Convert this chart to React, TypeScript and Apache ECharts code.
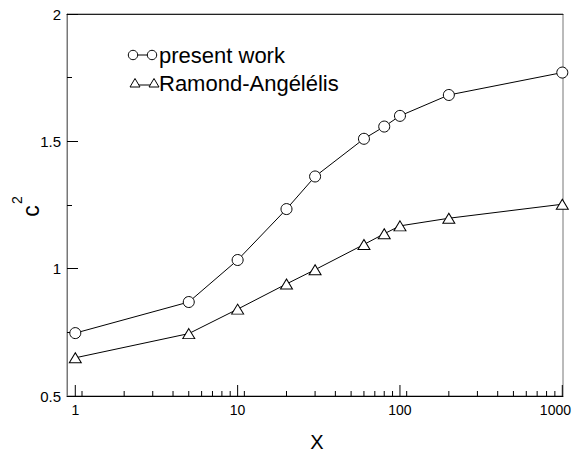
import React, { useEffect, useRef } from "react";
import * as echarts from "echarts";

const xValues = [1, 5, 10, 20, 30, 60, 80, 100, 200, 1000];
const presentWork = [0.747, 0.869, 1.034, 1.234, 1.362, 1.51, 1.558, 1.6, 1.682, 1.77];
const ramondAngelelis = [0.65, 0.745, 0.841, 0.94, 0.996, 1.095, 1.137, 1.168, 1.198, 1.253];
const majorTicks = [1, 10, 100, 1000];
const minorTicks = [1.1, 2, 3, 4, 5, 6, 7, 8, 9, 11, 20, 30, 40, 50, 60, 70, 80, 90, 110, 200, 300, 400, 500, 600, 700, 800, 900];
const tickLabels = ["1", "10", "100", "1000"];
const seriesNames = ["present work", "Ramond-Angélélis"];

const FONT = "Liberation Sans, Arial, Helvetica, sans-serif";

export default function App() {
  const ref = useRef<HTMLDivElement>(null);
  useEffect(() => {
    if (!ref.current) return;
    const chart = echarts.init(ref.current, null, { renderer: "svg" });
    const tickData = [
      ...majorTicks.map((v) => [v, 0.5, 1]),
      ...minorTicks.map((v) => [v, 0.5, 0]),
    ];
    const labelData = majorTicks.map((v, i) => [v, 0.5, i]);
    const option: any = {
      animation: false,
      backgroundColor: "#fff",
      grid: {
        left: 67,
        right: 10,
        top: 14,
        bottom: 62,
        show: true,
        borderColor: "#777",
        borderWidth: 1,
        backgroundColor: "transparent",
      },
      xAxis: [
        {
          type: "log",
          logBase: 10,
          min: 0.889,
          max: 1010,
          axisLine: { show: true, lineStyle: { color: "#000", width: 1 } },
          axisTick: { show: false },
          axisLabel: { show: false },
          splitLine: { show: false },
          minorTick: { show: false },
        },
        {
          type: "value",
          position: "top",
          min: 0,
          max: 1,
          axisLine: { show: true, onZero: false, lineStyle: { color: "#222", width: 1 } },
          axisTick: { show: false },
          axisLabel: { show: false },
          splitLine: { show: false },
        },
      ],
      yAxis: {
        type: "value",
        min: 0.5,
        max: 2,
        interval: 0.5,
        axisLine: { show: true, lineStyle: { color: "#777", width: 1 } },
        axisTick: { show: true, inside: true, length: 11, lineStyle: { color: "#000" } },
        minorTick: { show: true, splitNumber: 2, length: 5, lineStyle: { color: "#000" } },
        axisLabel: { color: "#000", fontSize: 15, fontFamily: FONT, margin: 6 },
        splitLine: { show: false },
      },
      series: [
        {
          name: seriesNames[0],
          type: "line",
          data: xValues.map((x, i) => [x, presentWork[i]]),
          symbol: "circle",
          symbolSize: 11,
          showAllSymbol: true,
          lineStyle: { color: "#000", width: 1 },
          itemStyle: { color: "#fff", borderColor: "#000", borderWidth: 1 },
          z: 3,
        },
        {
          name: seriesNames[1],
          type: "line",
          data: xValues.map((x, i) => [x, ramondAngelelis[i]]),
          symbol: "triangle",
          symbolSize: [12, 10],
          showAllSymbol: true,
          lineStyle: { color: "#000", width: 1 },
          itemStyle: { color: "#fff", borderColor: "#000", borderWidth: 1 },
          z: 3,
        },
        {
          type: "custom",
          data: tickData,
          clip: false,
          silent: true,
          renderItem: (params: any, api: any) => {
            const v = api.value(0);
            const major = api.value(2);
            const p = api.coord([v, 0.5]);
            const len = major ? 11 : 5;
            return {
              type: "line",
              shape: { x1: p[0], y1: p[1], x2: p[0], y2: p[1] - len },
              style: { stroke: "#000", lineWidth: 1 },
            };
          },
          z: 2,
        },
        {
          type: "custom",
          data: labelData,
          clip: false,
          silent: true,
          renderItem: (params: any, api: any) => {
            const v = api.value(0);
            const idx = api.value(2);
            const p = api.coord([v, 0.5]);
            const last = idx === tickLabels.length - 1;
            return {
              type: "text",
              style: {
                text: tickLabels[idx],
                x: last ? 571 : p[0],
                y: p[1] + 7,
                align: last ? "right" : "center",
                verticalAlign: "top",
                font: `14px ${FONT}`,
                fill: "#000",
              },
            };
          },
        },
      ],
      graphic: [
        {
          type: "text",
          x: 317,
          y: 442,
          style: { text: "X", font: `20px ${FONT}`, fill: "#000", align: "center", verticalAlign: "middle" },
        },
        {
          type: "text",
          x: 31,
          y: 211,
          rotation: Math.PI / 2,
          style: { text: "c", font: `23px ${FONT}`, fill: "#000", align: "center", verticalAlign: "middle" },
        },
        {
          type: "text",
          x: 17,
          y: 200,
          rotation: Math.PI / 2,
          style: { text: "2", font: `14px ${FONT}`, fill: "#000", align: "center", verticalAlign: "middle" },
        },
        // legend row 1
        { type: "line", shape: { x1: 133, y1: 55, x2: 152, y2: 55 }, style: { stroke: "#000", lineWidth: 1 } },
        { type: "circle", shape: { cx: 133, cy: 55, r: 4.7 }, style: { fill: "#fff", stroke: "#000", lineWidth: 1 } },
        { type: "circle", shape: { cx: 152, cy: 55, r: 4.7 }, style: { fill: "#fff", stroke: "#000", lineWidth: 1 } },
        {
          type: "text",
          x: 159,
          y: 55,
          style: { text: seriesNames[0], font: `22px ${FONT}`, fill: "#000", align: "left", verticalAlign: "middle" },
        },
        // legend row 2
        { type: "line", shape: { x1: 135, y1: 85, x2: 154, y2: 85 }, style: { stroke: "#000", lineWidth: 1 } },
        {
          type: "polygon",
          shape: { points: [[135, 78.5], [130, 87], [140, 87]] },
          style: { fill: "#fff", stroke: "#000", lineWidth: 1 },
        },
        {
          type: "polygon",
          shape: { points: [[154, 78.5], [149, 87], [159, 87]] },
          style: { fill: "#fff", stroke: "#000", lineWidth: 1 },
        },
        {
          type: "text",
          x: 159,
          y: 83,
          style: { text: seriesNames[1], font: `22px ${FONT}`, fill: "#000", align: "left", verticalAlign: "middle" },
        },
      ],
    };
    chart.setOption(option);
    return () => chart.dispose();
  }, []);
  return (
    <div
      ref={ref}
      style={{ position: "fixed", left: 0, top: 0, width: 573, height: 458, background: "#fff" }}
    />
  );
}
